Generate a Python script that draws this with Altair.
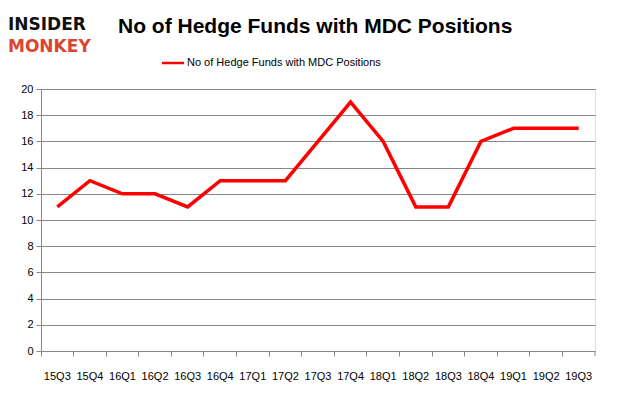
import altair as alt
import pandas as pd

quarters = ["15Q3","15Q4","16Q1","16Q2","16Q3","16Q4","17Q1","17Q2","17Q3",
            "17Q4","18Q1","18Q2","18Q3","18Q4","19Q1","19Q2","19Q3"]
funds = [11,13,12,12,11,13,13,13,16,19,16,11,11,16,17,17,17]
series_name = "No of Hedge Funds with MDC Positions"
chart_title = "No of Hedge Funds with MDC Positions"

df = pd.DataFrame({"q": quarters, "v": funds})
one = pd.DataFrame({"k": [0]})

W, H = 554, 262

xenc = alt.X("q:O", sort=quarters, title=None,
             scale=alt.Scale(type="band", paddingInner=0, paddingOuter=0),
             axis=alt.Axis(labelAngle=0, bandPosition=0, tickSize=5, tickColor="#868686",
                           domain=False, grid=False, labelFont="Liberation Sans",
                           labelFontSize=11, labelColor="#000000", labelPadding=14))
yenc = alt.Y("v:Q", title=None,
             scale=alt.Scale(domain=[0, 20]),
             axis=alt.Axis(values=list(range(0, 21, 2)), tickSize=5, tickColor="#868686",
                           domainColor="#868686", gridColor="#868686", labelFont="Liberation Sans",
                           labelFontSize=11, labelColor="#000000", labelPadding=3))

line = alt.Chart(df).mark_line(color="#ff0000", strokeWidth=3.5).encode(x=xenc, y=yenc)

endtick = alt.Chart(one).mark_rule(color="#868686").encode(
    x=alt.value(W), x2=alt.value(W), y=alt.value(H), y2=alt.value(H + 5))

title = alt.Chart(one).mark_text(text=chart_title, font="Liberation Sans",
                                 fontSize=21, fontWeight="bold", align="left", baseline="middle",
                                 color="#000000").encode(x=alt.value(77), y=alt.value(-62))

leg_line = alt.Chart(one).mark_rule(color="#ff0000", strokeWidth=2.5).encode(
    x=alt.value(121), x2=alt.value(143), y=alt.value(-26))
leg_text = alt.Chart(one).mark_text(text=series_name, font="Liberation Sans", fontSize=11,
                                    align="left", baseline="middle", color="#000000").encode(
    x=alt.value(146), y=alt.value(-26))

logo1 = alt.Chart(one).mark_text(text="INSIDER", font="DejaVu Sans", fontSize=17, fontWeight="bold",
                                 align="left", baseline="middle", color="#111111").encode(
    x=alt.value(-33), y=alt.value(-64))
logo2 = alt.Chart(one).mark_text(text="MONKEY", font="DejaVu Sans", fontSize=17, fontWeight="bold",
                                 align="left", baseline="middle", color="#d9452f").encode(
    x=alt.value(-33), y=alt.value(-42))

chart = alt.layer(line, endtick, title, leg_line, leg_text, logo1, logo2).properties(
    width=W, height=H,
    autosize=alt.AutoSizeParams(type="none"),
    padding={"left": 33, "top": 81, "right": 23, "bottom": 38},
).configure_view(stroke=None).configure(background="#ffffff")

chart.save("out.html", embed_options={"renderer": "svg", "actions": False})
